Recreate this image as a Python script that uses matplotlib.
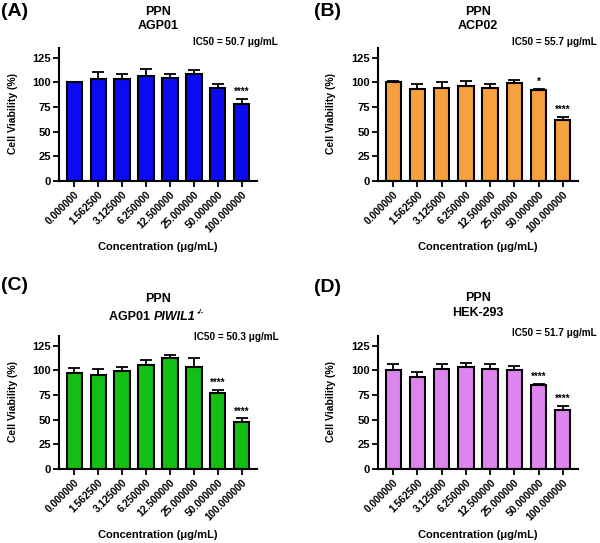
import matplotlib
matplotlib.use("Agg")
import matplotlib.pyplot as plt
import numpy as np

plt.rcParams['font.family'] = ['Liberation Sans', 'DejaVu Sans']
plt.rcParams['font.weight'] = 'bold'

concentrations = ["0.000000", "1.562500", "3.125000", "6.250000",
                  "12.500000", "25.000000", "50.000000", "100.000000"]
yticks = [0, 25, 50, 75, 100, 125]

A_means = [100.0, 103.4, 103.7, 106.8, 104.4, 108.4, 94.0, 78.4]
A_err = [0.5, 7.4, 4.7, 7.2, 4.6, 4.1, 4.3, 5.0]
A_sig = ["", "", "", "", "", "", "", "****"]

B_means = [100.0, 93.2, 94.6, 96.3, 94.6, 99.7, 91.9, 62.0]
B_err = [2.0, 5.4, 6.1, 5.7, 3.4, 2.7, 1.7, 3.0]
B_sig = ["", "", "", "", "", "", "*", "****"]

C_means = [97.8, 95.1, 99.9, 105.6, 113.1, 103.6, 77.4, 48.2]
C_err = [5.1, 6.1, 3.4, 4.8, 3.1, 9.2, 2.8, 3.1]
C_sig = ["", "", "", "", "", "", "****", "****"]

D_means = [100.7, 93.6, 101.4, 103.7, 101.4, 100.7, 85.1, 60.1]
D_err = [6.1, 4.7, 5.4, 3.4, 5.4, 3.7, 1.4, 4.1]
D_sig = ["", "", "", "", "", "", "****", "****"]

W, H = 600, 543
fig = plt.figure(figsize=(W / 100, H / 100), dpi=100)


def fx(p):
    return p / W


def fy(p):
    return 1 - p / H


def panel(left, right, bottom, top, means, err, sig, color):
    ax = fig.add_axes([fx(left), fy(bottom), fx(right - left), (bottom - top) / H])
    x = np.arange(len(means))
    ax.bar(x, means, width=0.63, color=color, edgecolor='black', linewidth=1.5, zorder=2)
    ax.errorbar(x, means, yerr=[np.zeros(len(err)), err], fmt='none', ecolor='black',
                elinewidth=1.3, capsize=4, capthick=1.3, zorder=3)
    for xi, m, e, s in zip(x, means, err, sig):
        if s:
            ax.text(xi, m + e + 2, s, ha='center', va='bottom', fontsize=7, fontweight='bold')
    ax.set_xlim(-0.63, len(means) - 0.37)
    ax.set_ylim(0, 135)
    ax.set_yticks(yticks)
    ax.set_xticks(x)
    ax.set_xticklabels(concentrations, rotation=45, ha='right', rotation_mode='anchor',
                       fontsize=7.4, fontweight='bold')
    ax.set_yticklabels([str(v) for v in yticks], fontsize=8, fontweight='bold')
    for s in ['top', 'right']:
        ax.spines[s].set_visible(False)
    for s in ['left', 'bottom']:
        ax.spines[s].set_linewidth(1.5)
    ax.tick_params(direction='out', length=4, width=1.3, pad=2)
    return ax


panel(59, 257, 181, 48, A_means, A_err, A_sig, '#0A0AF5')
panel(378, 578, 181, 48, B_means, B_err, B_sig, '#F7A03E')
panel(59, 257, 469, 336, C_means, C_err, C_sig, '#12BF12')
panel(378, 578, 469, 336, D_means, D_err, D_sig, '#DE84EE')

# panel letters
for lab, px, py in [("(A)", 1, 12), ("(B)", 314, 12), ("(C)", 1, 285), ("(D)", 314, 287)]:
    fig.text(fx(px), fy(py), lab, fontsize=14, fontweight='bold', ha='left', va='center')

TS = 9
# titles
fig.text(fx(158), fy(12), "PPN", fontsize=TS, fontweight='bold', ha='center', va='center')
fig.text(fx(158), fy(26), "AGP01", fontsize=TS, fontweight='bold', ha='center', va='center')
fig.text(fx(478), fy(12), "PPN", fontsize=TS, fontweight='bold', ha='center', va='center')
fig.text(fx(478), fy(26), "ACP02", fontsize=TS, fontweight='bold', ha='center', va='center')
fig.text(fx(158), fy(299), "PPN", fontsize=TS, fontweight='bold', ha='center', va='center')
fig.text(fx(478), fy(298), "PPN", fontsize=TS, fontweight='bold', ha='center', va='center')
fig.text(fx(478), fy(313), "HEK-293", fontsize=TS, fontweight='bold', ha='center', va='center')

# composite title for C
renderer = fig.canvas.get_renderer()
t1 = fig.text(fx(109), fy(317), "AGP01 ", fontsize=TS, fontweight='bold', ha='left', va='center')
bb = t1.get_window_extent(renderer)
t2 = fig.text(bb.x1 / W, fy(317), "PIWIL1", fontsize=TS, fontweight='bold',
              fontstyle='italic', ha='left', va='center')
bb2 = t2.get_window_extent(renderer)
fig.text(bb2.x1 / W + 2 / W, fy(312), "-/-", fontsize=5.5, fontweight='bold',
         fontstyle='italic', ha='left', va='center')

# IC50
for txt, px, py in [("IC50 = 50.7 \u03bcg/mL", 278, 42), ("IC50 = 55.7 \u03bcg/mL", 597, 42),
                    ("IC50 = 50.3 \u03bcg/mL", 279, 337), ("IC50 = 51.7 \u03bcg/mL", 597, 333)]:
    fig.text(fx(px), fy(py), txt, fontsize=7.2, fontweight='bold', ha='right', va='center')

# axis labels
for px, py in [(13, 114), (331, 114), (13, 402), (331, 402)]:
    fig.text(fx(px), fy(py), "Cell Viability (%)", fontsize=7.5, fontweight='bold',
             rotation=90, ha='center', va='center')
for px, py in [(158, 247), (478, 247), (158, 535), (478, 535)]:
    fig.text(fx(px), fy(py), "Concentration (\u03bcg/mL)", fontsize=8, fontweight='bold',
             ha='center', va='center')

fig.savefig("out.png", dpi=100, facecolor='white')
